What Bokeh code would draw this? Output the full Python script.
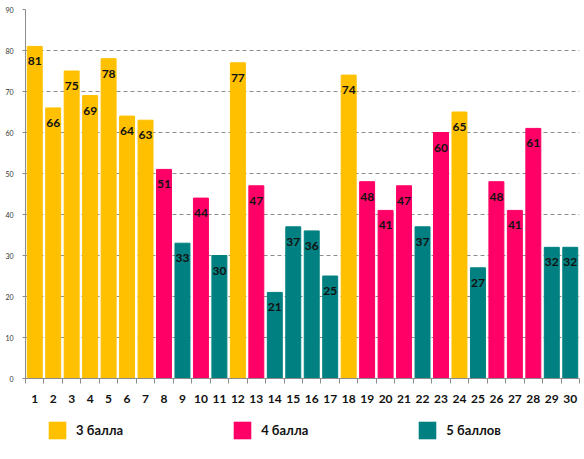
from bokeh.plotting import figure
from bokeh.layouts import column
from bokeh.models import ColumnDataSource, FixedTicker, Range1d, Legend, LegendItem
from bokeh.core.properties import value
from bokeh.embed import file_html
from bokeh.resources import INLINE

# номера заданий, баллы и оценки
nums = list(range(1, 31))
vals = [81, 66, 75, 69, 78, 64, 63, 51, 33, 44, 30, 77, 47, 21, 37,
        36, 25, 74, 48, 41, 47, 37, 60, 65, 27, 48, 41, 61, 32, 32]
grades = [3, 3, 3, 3, 3, 3, 3, 4, 5, 4, 5, 3, 4, 5, 5,
          5, 5, 3, 4, 4, 4, 5, 4, 3, 5, 4, 4, 4, 5, 5]
grade_names = {3: "3 балла", 4: "4 балла", 5: "5 баллов"}
grade_colors = {3: "#FFC000", 4: "#FF0066", 5: "#008080"}

src = ColumnDataSource(data=dict(
    x=nums,
    y=vals,
    txt=[str(v) for v in vals],
    color=[grade_colors[g] for g in grades],
))

p = figure(width=584, height=410, output_backend="svg", toolbar_location=None,
           x_range=Range1d(0.5, 30.5), y_range=Range1d(0, 90),
           min_border_left=25, min_border_right=5, min_border_top=9,
           min_border_bottom=32)
p.outline_line_color = None

p.vbar(x="x", top="y", width=0.81, color="color", source=src)
p.text(x="x", y="y", text="txt", source=src, text_align="center",
       text_baseline="middle", y_offset=15, text_font=value("Lato"),
       text_font_style="bold", text_font_size="12px", text_color="#111111")

# оси
p.xaxis.ticker = FixedTicker(ticks=nums, minor_ticks=[i + 0.5 for i in range(31)])
p.xaxis.axis_line_color = "#8c8c8c"
p.xaxis.major_tick_out = 0
p.xaxis.major_tick_in = 0
p.xaxis.minor_tick_out = 5
p.xaxis.minor_tick_in = 0
p.xaxis.minor_tick_line_color = "#8c8c8c"
p.xaxis.major_label_standoff = 11
p.xaxis.major_label_text_font = "Lato"
p.xaxis.major_label_text_font_style = "bold"
p.xaxis.major_label_text_font_size = "12px"
p.xaxis.major_label_text_color = "#111111"

p.yaxis.ticker = FixedTicker(ticks=list(range(0, 91, 10)))
p.yaxis.axis_line_color = "#8c8c8c"
p.yaxis.major_tick_line_color = "#8c8c8c"
p.yaxis.major_tick_out = 3
p.yaxis.major_tick_in = 0
p.yaxis.minor_tick_line_color = None
p.yaxis.major_label_standoff = 9
p.yaxis.major_label_text_font = "Lato"
p.yaxis.major_label_text_font_size = "7px"
p.yaxis.major_label_text_color = "#333333"

p.xgrid.visible = False
p.ygrid.grid_line_color = "#8c8c8c"
p.ygrid.grid_line_dash = "4 3"

# легенда под графиком (пустые квадраты-образцы нулевого размера)
leg = figure(width=584, height=49, output_backend="svg", toolbar_location=None,
             x_range=Range1d(0, 1), y_range=Range1d(0, 1),
             x_axis_type=None, y_axis_type=None,
             min_border=0)
leg.outline_line_color = None
leg.xgrid.visible = False
leg.ygrid.visible = False
items = []
for g in (3, 4, 5):
    rr = leg.vbar(x=[0], top=[0], bottom=0, width=0,
                  fill_color=grade_colors[g], line_alpha=0)
    items.append(LegendItem(label=grade_names[g], renderers=[rr]))
legend = Legend(items=items, orientation="horizontal", location=(21, 18),
                glyph_width=22, glyph_height=22, label_standoff=8,
                spacing=108, padding=0, margin=0, border_line_color=None,
                background_fill_alpha=0,
                label_text_font="Lato", label_text_font_style="bold",
                label_text_font_size="13px", label_text_color="#111111")
leg.add_layout(legend)

open("out.html", "w").write(file_html(column(p, leg), INLINE))
